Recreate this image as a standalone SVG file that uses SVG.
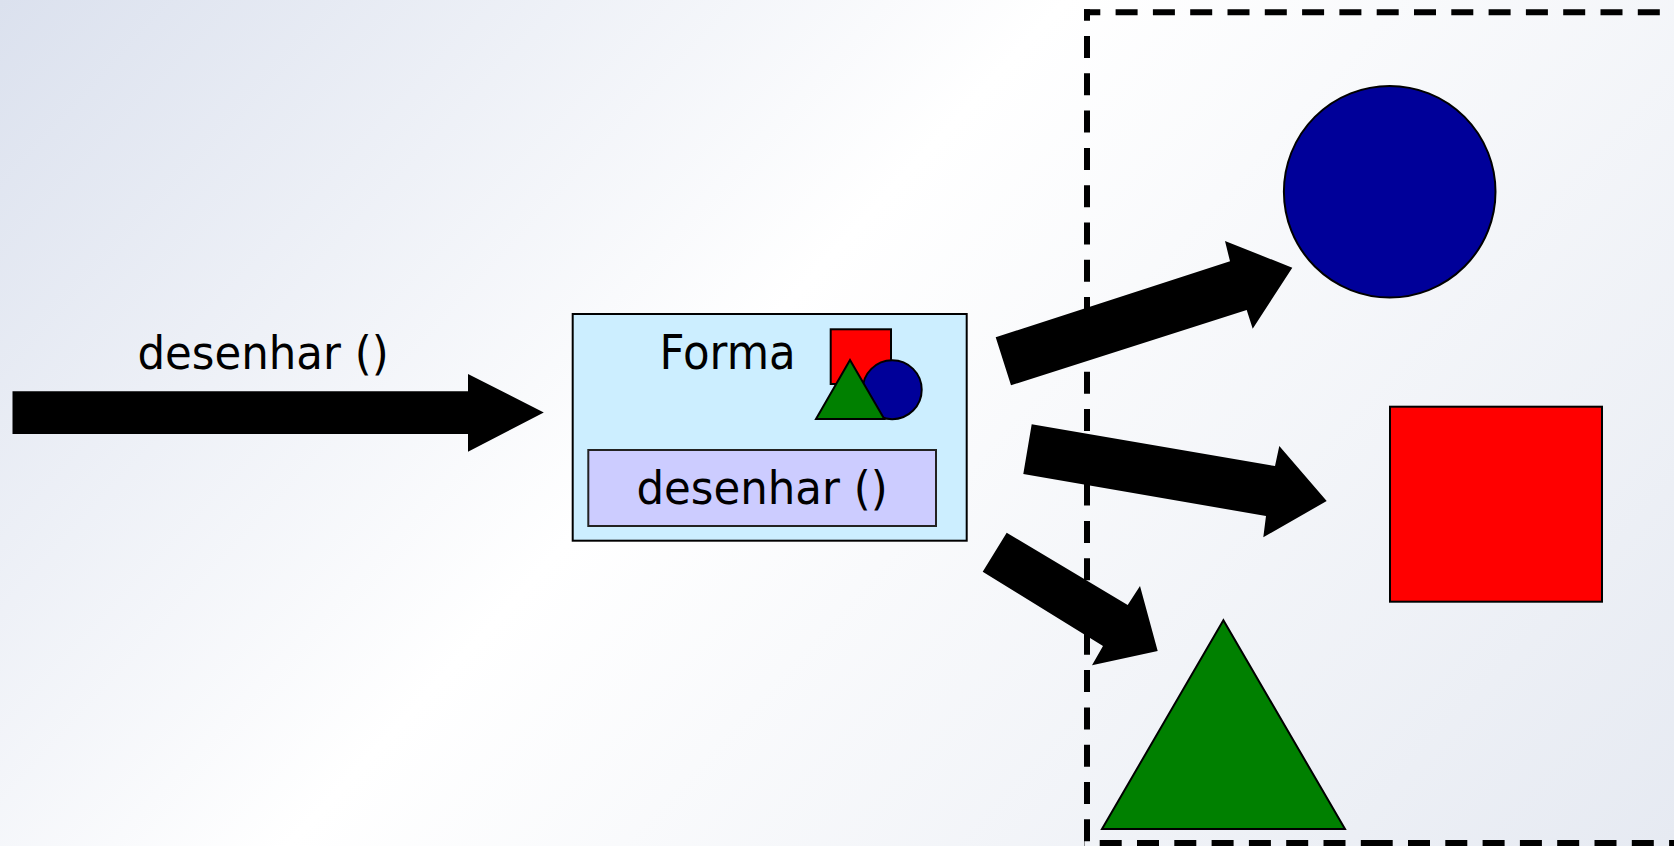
<svg xmlns="http://www.w3.org/2000/svg" width="1674" height="846" viewBox="0 0 1674 846">
  <defs>
    <linearGradient id="bg" gradientUnits="userSpaceOnUse" x1="0" y1="0" x2="1327" y2="1221">
      <stop offset="0" stop-color="#dbe1ee"/>
      <stop offset="0.435" stop-color="#ffffff"/>
      <stop offset="1" stop-color="#e6eaf2"/>
    </linearGradient>
    <style>
      .lbl { font-family: "DejaVu Sans", "Liberation Sans", sans-serif; font-size: 43.5px; fill: #000000; }
      .arrow { fill: #000000; stroke: none; }
      .dash { fill: none; stroke: #000000; stroke-width: 6; stroke-dasharray: 22 15.3; }
      .shape { stroke: #000000; stroke-width: 2; }
    </style>
  </defs>

  <rect id="background" x="0" y="0" width="1674" height="846" fill="url(#bg)"/>

  <g id="boundary">
    <line class="dash" x1="1084" y1="12.2" x2="1680" y2="12.2" stroke-dashoffset="5.7"/>
    <line class="dash" x1="1087" y1="9.2" x2="1087" y2="846" stroke-dashoffset="10.5"/>
    <line class="dash" x1="1084" y1="843" x2="1383" y2="843" stroke-dashoffset="21.6"/>
    <line class="dash" x1="1370.7" y1="843" x2="1680" y2="843" stroke-dashoffset="0"/>
  </g>

  <g id="label-desenhar">
    <text class="lbl" text-anchor="middle" transform="translate(263,368.5) scale(1,1.08)">desenhar ()</text>
  </g>

  <g id="forma">
    <rect x="572.7" y="314" width="394" height="226.7" fill="#cceeff" stroke="#000000" stroke-width="2"/>
    <text class="lbl" transform="translate(659.5,369) scale(1,1.094)">Forma</text>
    <rect x="830.7" y="329.3" width="60.3" height="54.7" fill="#ff0000" class="shape"/>
    <circle cx="892.2" cy="389.7" r="29.5" fill="#000099" class="shape"/>
    <polygon points="850,360 816,419 884.3,419" fill="#008000" class="shape"/>
    <g id="forma-method">
      <rect x="588.3" y="450" width="347.7" height="76" fill="#ccccff" stroke="#222222" stroke-width="2"/>
      <text class="lbl" text-anchor="middle" transform="translate(762,504) scale(1,1.08)">desenhar ()</text>
    </g>
  </g>

  <g id="circulo">
    <circle cx="1389.7" cy="191.7" r="105.8" fill="#000099" class="shape"/>
  </g>
  <g id="quadrado">
    <rect x="1390" y="406.7" width="212" height="195" fill="#ff0000" class="shape"/>
  </g>
  <g id="triangulo">
    <polygon points="1223.4,620.2 1102,829 1345,829" fill="#008000" class="shape"/>
  </g>

  <g id="connectors">
    <polygon class="arrow" points="12.5,391.3 468,391.3 468,374 543.8,412.5 468,451.7 468,434 12.5,434"/>
    <polygon class="arrow" points="995.7,337.3 1230,261.3 1225,241 1292.3,267.7 1252.7,328.7 1246.7,310 1011,385.3"/>
    <polygon class="arrow" points="1031.7,424.3 1275,466 1279.3,446 1326.7,501 1263.3,537.3 1266,516 1023.3,474"/>
    <polygon class="arrow" points="1006.7,532.7 1127.7,605 1140,586 1157.7,651 1092,665.3 1103,646 982.7,571.7"/>
  </g>
</svg>
